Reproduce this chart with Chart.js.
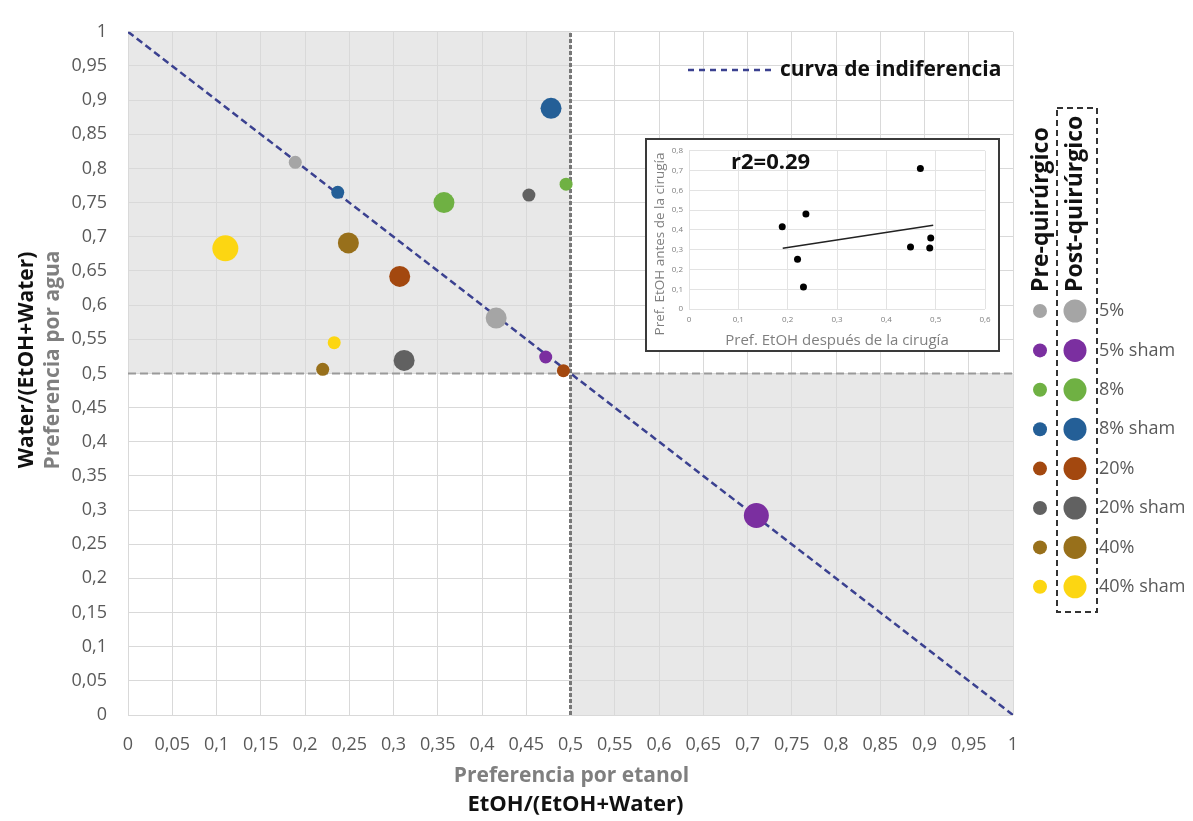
<!DOCTYPE html>
<html><head><meta charset="utf-8">
<script src="https://cdn.jsdelivr.net/npm/chart.js@4.4.0/dist/chart.umd.min.js"></script>
<style>
html,body{margin:0;padding:0;background:#fff;}
#wrap{position:relative;width:1193px;height:821px;overflow:hidden;background:#fff;}
#main{position:absolute;left:0;top:0;}
#insetBox{position:absolute;left:645px;top:138px;width:355px;height:214px;box-sizing:border-box;border:2px solid #3a3a3a;background:#fff;}
#inset{position:absolute;left:0;top:0;}
</style></head><body>
<div id="wrap">
<canvas id="main" width="1193" height="821"></canvas>
<div id="insetBox"><canvas id="inset" width="351" height="210"></canvas></div>
</div>
<script>
// ---------- DATA ----------
const groups = ['5%','5% sham','8%','8% sham','20%','20% sham','40%','40% sham'];
const preX  = [0.189,0.472,0.495,0.237,0.492,0.453,0.220,0.233];
const preY  = [0.809,0.524,0.777,0.765,0.504,0.761,0.506,0.545];
const postX = [0.416,0.710,0.357,0.478,0.307,0.312,0.249,0.110];
const postY = [0.581,0.292,0.750,0.888,0.642,0.519,0.691,0.683];
const indiffX = [0,1];
const indiffY = [1,0];
const threshold = 0.5;
const xTickLabels = ['0','0,05','0,1','0,15','0,2','0,25','0,3','0,35','0,4','0,45','0,5','0,55','0,6','0,65','0,7','0,75','0,8','0,85','0,9','0,95','1'];
const yTickLabels = xTickLabels.slice();
const insetX = [0.189,0.237,0.220,0.232,0.469,0.449,0.490,0.488];
const insetY = [0.416,0.480,0.251,0.111,0.711,0.313,0.359,0.308];
const trendX = [0.19,0.495];
const trendY = [0.307,0.424];
const insetXTicks = ['0','0,1','0,2','0,3','0,4','0,5','0,6'];
const insetYTicks = ['0','0,1','0,2','0,3','0,4','0,5','0,6','0,7','0,8'];
const r2Label = 'r2=0.29';

// ---------- STYLES ----------
const colors = ['#a5a5a5','#7b2fa0','#6fb143','#245f97','#a3480f','#616161','#98701b','#fcd612'];
const postRadius = [10.5,12.5,10.5,10.5,10.5,10.5,10.5,13];
const FONT = "'Open Sans', sans-serif";
const GRAY = '#7f7f7f';
const TICK = '#595959';

const pts = (xs, ys) => xs.map((x,i)=>({x, y: ys[i]}));

const shade = {
  id:'shade',
  beforeDraw(c){
    const {ctx} = c, x = c.scales.x, y = c.scales.y;
    const x0=x.getPixelForValue(x.min), xm=x.getPixelForValue(threshold), x1=x.getPixelForValue(x.max);
    const y0=y.getPixelForValue(y.min), ym=y.getPixelForValue(threshold), y1=y.getPixelForValue(y.max);
    ctx.save();
    ctx.fillStyle='#e8e8e8';
    ctx.fillRect(x0,y1,xm-x0,ym-y1);
    ctx.fillRect(xm,ym,x1-xm,y0-ym);
    ctx.restore();
  }
};

const decor = {
  id:'decor',
  afterDraw(c){
    const ctx = c.ctx, ca = c.chartArea;
    const cx = (ca.left+ca.right)/2;
    ctx.save();
    // x titles
    ctx.textAlign='center'; ctx.textBaseline='middle';
    ctx.font = "bold 21px "+FONT; ctx.fillStyle=GRAY;
    ctx.fillText('Preferencia por etanol', cx+1, 776);
    ctx.fillStyle='#111';
    ctx.font = "bold 22px "+FONT;
    ctx.fillText('EtOH/(EtOH+Water)', cx+5, 805);
    // y titles
    const cy = 360;
    ctx.font = "bold 21px "+FONT;
    ctx.save(); ctx.translate(27, cy); ctx.rotate(-Math.PI/2);
    ctx.fillStyle='#111'; ctx.fillText('Water/(EtOH+Water)',0,0); ctx.restore();
    ctx.save(); ctx.translate(53, cy); ctx.rotate(-Math.PI/2);
    ctx.fillStyle=GRAY; ctx.fillText('Preferencia por agua',0,0); ctx.restore();
    // indifference legend
    ctx.save();
    ctx.strokeStyle='#3b4190'; ctx.lineWidth=2.5; ctx.setLineDash([6,5]);
    ctx.beginPath(); ctx.moveTo(688,70); ctx.lineTo(774,70); ctx.stroke();
    ctx.restore();
    ctx.textAlign='left'; ctx.font="bold 21px "+FONT; ctx.fillStyle='#111';
    ctx.fillText('curva de indiferencia', 780, 70);
    // right legend headers
    ctx.font="bold 23px "+FONT; ctx.fillStyle='#111';
    ctx.save(); ctx.translate(1041,292); ctx.rotate(-Math.PI/2); ctx.textAlign='left'; ctx.fillText('Pre-quirúrgico',0,0); ctx.restore();
    ctx.save(); ctx.translate(1075,292); ctx.rotate(-Math.PI/2); ctx.textAlign='left'; ctx.fillText('Post-quirúrgico',0,0); ctx.restore();
    // dashed box
    ctx.save(); ctx.strokeStyle='#333'; ctx.lineWidth=2; ctx.setLineDash([6,4]);
    ctx.strokeRect(1057,108,40,504); ctx.restore();
    // legend rows
    ctx.font="18px "+FONT; ctx.fillStyle=TICK; ctx.textAlign='left';
    groups.forEach((g,i)=>{
      const yy = 311 + i*39.4;
      ctx.fillStyle=colors[i];
      ctx.beginPath(); ctx.arc(1040,yy,7,0,Math.PI*2); ctx.fill();
      ctx.beginPath(); ctx.arc(1075,yy,11.5,0,Math.PI*2); ctx.fill();
      ctx.fillStyle=TICK;
      ctx.fillText(g, 1099, yy);
    });
    ctx.restore();
  }
};

new Chart(document.getElementById('main'), {
  type:'scatter',
  data:{
    datasets:[
      {label:'pre', data:pts(preX,preY), backgroundColor:colors, borderColor:colors, borderWidth:0, pointRadius:6.5, order:1},
      {label:'post', data:pts(postX,postY), backgroundColor:colors, borderColor:colors, borderWidth:0, pointRadius:postRadius, order:0},
      {type:'line', label:'curva', data:pts(indiffX,indiffY), borderColor:'#3b4190', borderWidth:2.5, borderDash:[7,4], pointRadius:0, fill:false, order:5},
      {type:'line', label:'v', data:[{x:threshold,y:0},{x:threshold,y:1}], borderColor:'#777', borderWidth:3, borderDash:[4,2], pointRadius:0, fill:false, order:6},
      {type:'line', label:'h', data:[{x:0,y:threshold},{x:1,y:threshold}], borderColor:'#9a9a9a', borderWidth:2, borderDash:[8,4], pointRadius:0, fill:false, order:6}
    ]
  },
  options:{
    responsive:false, animation:false,
    layout:{padding:{left:0,right:180,top:20,bottom:0}},
    plugins:{legend:{display:false}, tooltip:{enabled:false}},
    scales:{
      x:{type:'linear', min:0, max:1,
        ticks:{stepSize:0.05, autoSkip:false, maxRotation:0, padding:19, color:TICK, font:{family:FONT,size:18},
          callback:(v,i)=>xTickLabels[i]},
        grid:{color:'#d9d9d9', lineWidth:1, drawTicks:false},
        border:{display:false},
        afterFit:(s)=>{s.height=106;}
      },
      y:{type:'linear', min:0, max:1,
        ticks:{stepSize:0.05, autoSkip:false, padding:21, color:TICK, font:{family:FONT,size:18},
          callback:(v,i)=>yTickLabels[i]},
        grid:{color:'#d9d9d9', lineWidth:1, drawTicks:false},
        border:{display:false},
        afterFit:(s)=>{s.width=128;}
      }
    }
  },
  plugins:[shade, decor]
});

// ---------- INSET ----------
const insetText = {
  id:'insetText',
  afterDraw(c){
    const ctx=c.ctx; ctx.save();
    ctx.font="bold 22px "+FONT; ctx.fillStyle='#111'; ctx.textAlign='left'; ctx.textBaseline='middle';
    ctx.fillText(r2Label, 84, 23);
    ctx.font="13.5px "+FONT; ctx.fillStyle=GRAY; ctx.textAlign='center';
    ctx.translate(13, 104); ctx.rotate(-Math.PI/2);
    ctx.fillText('Pref. EtOH antes de la cirugía', 0, 0);
    ctx.restore();
  }
};
new Chart(document.getElementById('inset'), {
  type:'scatter',
  data:{datasets:[
    {label:'pts', data:pts(insetX,insetY), backgroundColor:'#000', borderWidth:0, pointRadius:3.5, order:0},
    {type:'line', label:'trend', data:pts(trendX,trendY), borderColor:'#222', borderWidth:1.5, pointRadius:0, fill:false, order:1}
  ]},
  options:{
    responsive:false, animation:false,
    layout:{padding:{left:0,right:13,top:10,bottom:0}},
    plugins:{legend:{display:false}, tooltip:{enabled:false}},
    scales:{
      x:{type:'linear', min:0, max:0.6,
        ticks:{stepSize:0.1, autoSkip:false, maxRotation:0, padding:6, color:GRAY, font:{family:FONT,size:8}, callback:(v,i)=>insetXTicks[i]},
        grid:{color:'#e3e3e3', drawTicks:false}, border:{display:false},
        title:{display:true, text:'Pref. EtOH después de la cirugía', color:GRAY, font:{family:FONT,size:15}, padding:{top:0,bottom:0}},
        afterFit:(s)=>{s.height=41;}
      },
      y:{type:'linear', min:0, max:0.8,
        ticks:{stepSize:0.1, autoSkip:false, padding:6, color:GRAY, font:{family:FONT,size:8}, callback:(v,i)=>insetYTicks[i]},
        grid:{color:'#e3e3e3', drawTicks:false}, border:{display:false},
        afterFit:(s)=>{s.width=42;}
      }
    }
  },
  plugins:[insetText]
});
</script>
</body></html>
